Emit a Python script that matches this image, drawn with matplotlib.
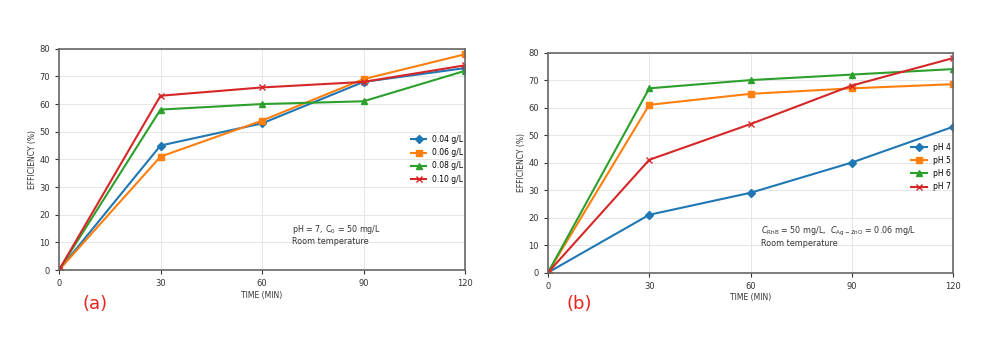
import matplotlib
matplotlib.use("Agg")
import matplotlib.pyplot as plt

# Data
time = [0, 30, 60, 90, 120]

dose_labels = ["0.04 g/L", "0.06 g/L", "0.08 g/L", "0.10 g/L"]
dose_values = [
    [0, 45, 53, 68, 73],
    [0, 41, 54, 69, 78],
    [0, 58, 60, 61, 72],
    [0, 63, 66, 68, 74],
]

ph_labels = ["pH 4", "pH 5", "pH 6", "pH 7"]
ph_values = [
    [0, 21, 29, 40, 53],
    [0, 61, 65, 67, 68.5],
    [0, 67, 70, 72, 74],
    [0, 41, 54, 68, 78],
]

colors = ["#1f77b4", "#ff7f0e", "#2ca02c", "#d62728"]
markers = ["D", "s", "^", "x"]

fig = plt.figure(figsize=(10, 3.53), dpi=100)
ax1 = fig.add_axes([0.059, 0.235, 0.406, 0.627])
ax2 = fig.add_axes([0.548, 0.228, 0.405, 0.623])


def draw(ax, values, labels, note, legend_pos):
    for v, lab, c, m in zip(values, labels, colors, markers):
        ax.plot(time, v, color=c, marker=m, markersize=4, linewidth=1.5, label=lab)
    ax.set_xlim(0, 120)
    ax.set_ylim(0, 80)
    ax.set_xticks(time)
    ax.set_yticks(range(0, 81, 10))
    ax.grid(True, color="#e6e6e6", linewidth=0.7)
    ax.tick_params(labelsize=6, length=3, width=0.8, colors="#333333")
    for s in ax.spines.values():
        s.set_color("#666666")
        s.set_linewidth(1.2)
    ax.set_xlabel("TIME (MIN)", fontsize=5.5, color="#333333", labelpad=2)
    ax.set_ylabel("EFFICIENCY (%)", fontsize=5.5, color="#333333", labelpad=2)
    ax.text(note[0], note[1], note[2], fontsize=5.8, color="#333333",
            va="center", linespacing=1.15)
    ax.legend(loc="center left", bbox_to_anchor=legend_pos, frameon=False,
              fontsize=5.5, handlelength=2.0, labelspacing=0.55)


draw(ax1, dose_values, dose_labels,
     (69, 12.8, "pH = 7, C$_0$ = 50 mg/L\nRoom temperature"), (0.85, 0.50))
draw(ax2, ph_values, ph_labels,
     (63, 13.2, r"$C_{\rm RhB}$ = 50 mg/L,  $C_{\rm Ag-ZnO}$ = 0.06 mg/L" + "\nRoom temperature"),
     (0.88, 0.48))

fig.text(0.083, 0.125, "(a)", color="#e8231f", fontsize=13)
fig.text(0.567, 0.125, "(b)", color="#e8231f", fontsize=13)

plt.savefig("out.png", dpi=100)
plt.close()
